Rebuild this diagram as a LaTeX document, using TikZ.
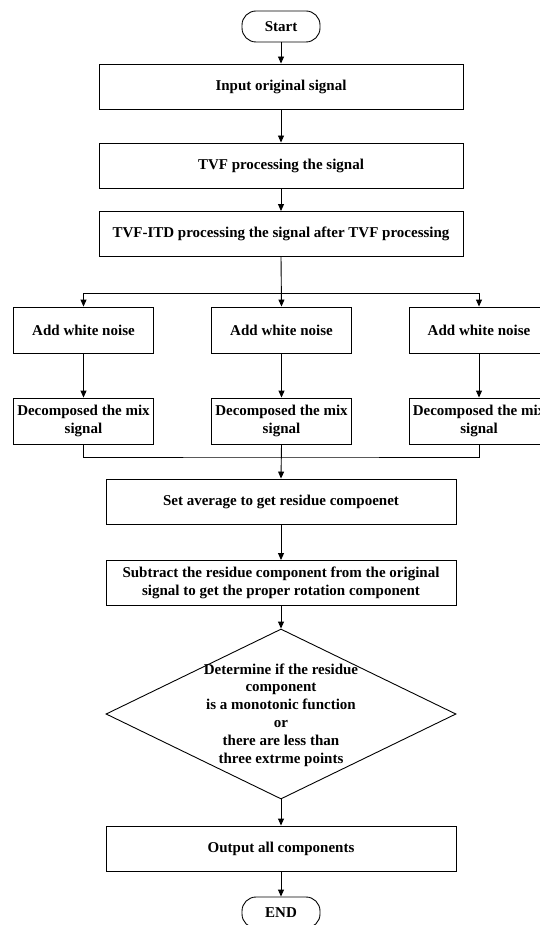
\documentclass[tikz,border=0pt]{standalone}
\usepackage{fontspec}
\setmainfont{Liberation Serif}
\usetikzlibrary{arrows.meta,shapes.geometric}
\begin{document}
\begin{tikzpicture}[x=1pt,y=-1pt,
  every node/.style={font=\fontsize{15}{17.5}\selectfont\bfseries},
  box/.style={draw,line width=0.9pt,rectangle,inner sep=0pt,align=center},
  wide/.style={box,minimum width=364pt,minimum height=45pt},
  mid/.style={box,minimum width=350pt,minimum height=45pt},
  small/.style={box,minimum width=140pt,minimum height=46pt},
  term/.style={draw,line width=0.9pt,rounded corners=14pt,minimum width=78pt,minimum height=31pt,inner sep=0pt},
  arr/.style={line width=0.9pt,-{Triangle[length=7pt,width=6pt]}},
  ln/.style={line width=0.9pt}]
\useasboundingbox (0,0) rectangle (540,925);
\node[term] (start) at (281,26.5) {Start};
\node[wide] (input) at (281,86.5) {Input original signal};
\node[wide] (tvf) at (281,165.5) {TVF processing the signal};
\node[wide] (itd) at (281,234) {TVF-ITD processing the signal after TVF processing};
\node[small] (add1) at (83.5,330) {Add white noise};
\node[small] (add2) at (281.5,330) {Add white noise};
\node[small] (add3) at (479,330) {Add white noise};
\node[small] (dec1) at (83.5,421) {Decomposed the mix\\signal};
\node[small] (dec2) at (281.5,421) {Decomposed the mix\\signal};
\node[small] (dec3) at (479,421) {Decomposed the mix\\signal};
\node[mid] (avg) at (281,501.5) {Set average to get residue compoenet};
\node[mid] (sub) at (281,583) {Subtract the residue component from the original\\signal to get the proper rotation component};
\node[draw,line width=0.9pt,diamond,minimum width=350pt,minimum height=170pt,inner sep=0pt] (cond) at (281,714) {};
\node[align=center,inner sep=0pt,font=\fontsize{15}{17.8}\selectfont\bfseries] (condtext) at (281,715) {Determine if the residue\\component\\is a monotonic function\\or\\there are less than\\three extrme points};
\node[mid] (out) at (281,848.5) {Output all components};
\node[term] (end) at (281,912.5) {END};
\coordinate (split) at (281,293);
\coordinate (merge) at (281,457);
\draw[arr] (start) -- (input);
\draw[arr] (input) -- (tvf);
\draw[arr] (tvf) -- (itd);
\draw[arr] (itd.south) -- (add2.north);
\draw[arr] (split) -| (add1.north);
\draw[arr] (split) -| (add3.north);
\draw[arr] (add1) -- (dec1);
\draw[arr] (add2) -- (dec2);
\draw[arr] (add3) -- (dec3);
\draw[ln] (dec1.south) |- (merge) -| (dec3.south);
\draw[arr] (dec2.south) -- (avg.north);
\draw[arr] (avg) -- (sub);
\draw[arr] (sub.south) -- (cond.north);
\draw[arr] (cond.south) -- (out.north);
\draw[arr] (out) -- (end);
\end{tikzpicture}
\end{document}
